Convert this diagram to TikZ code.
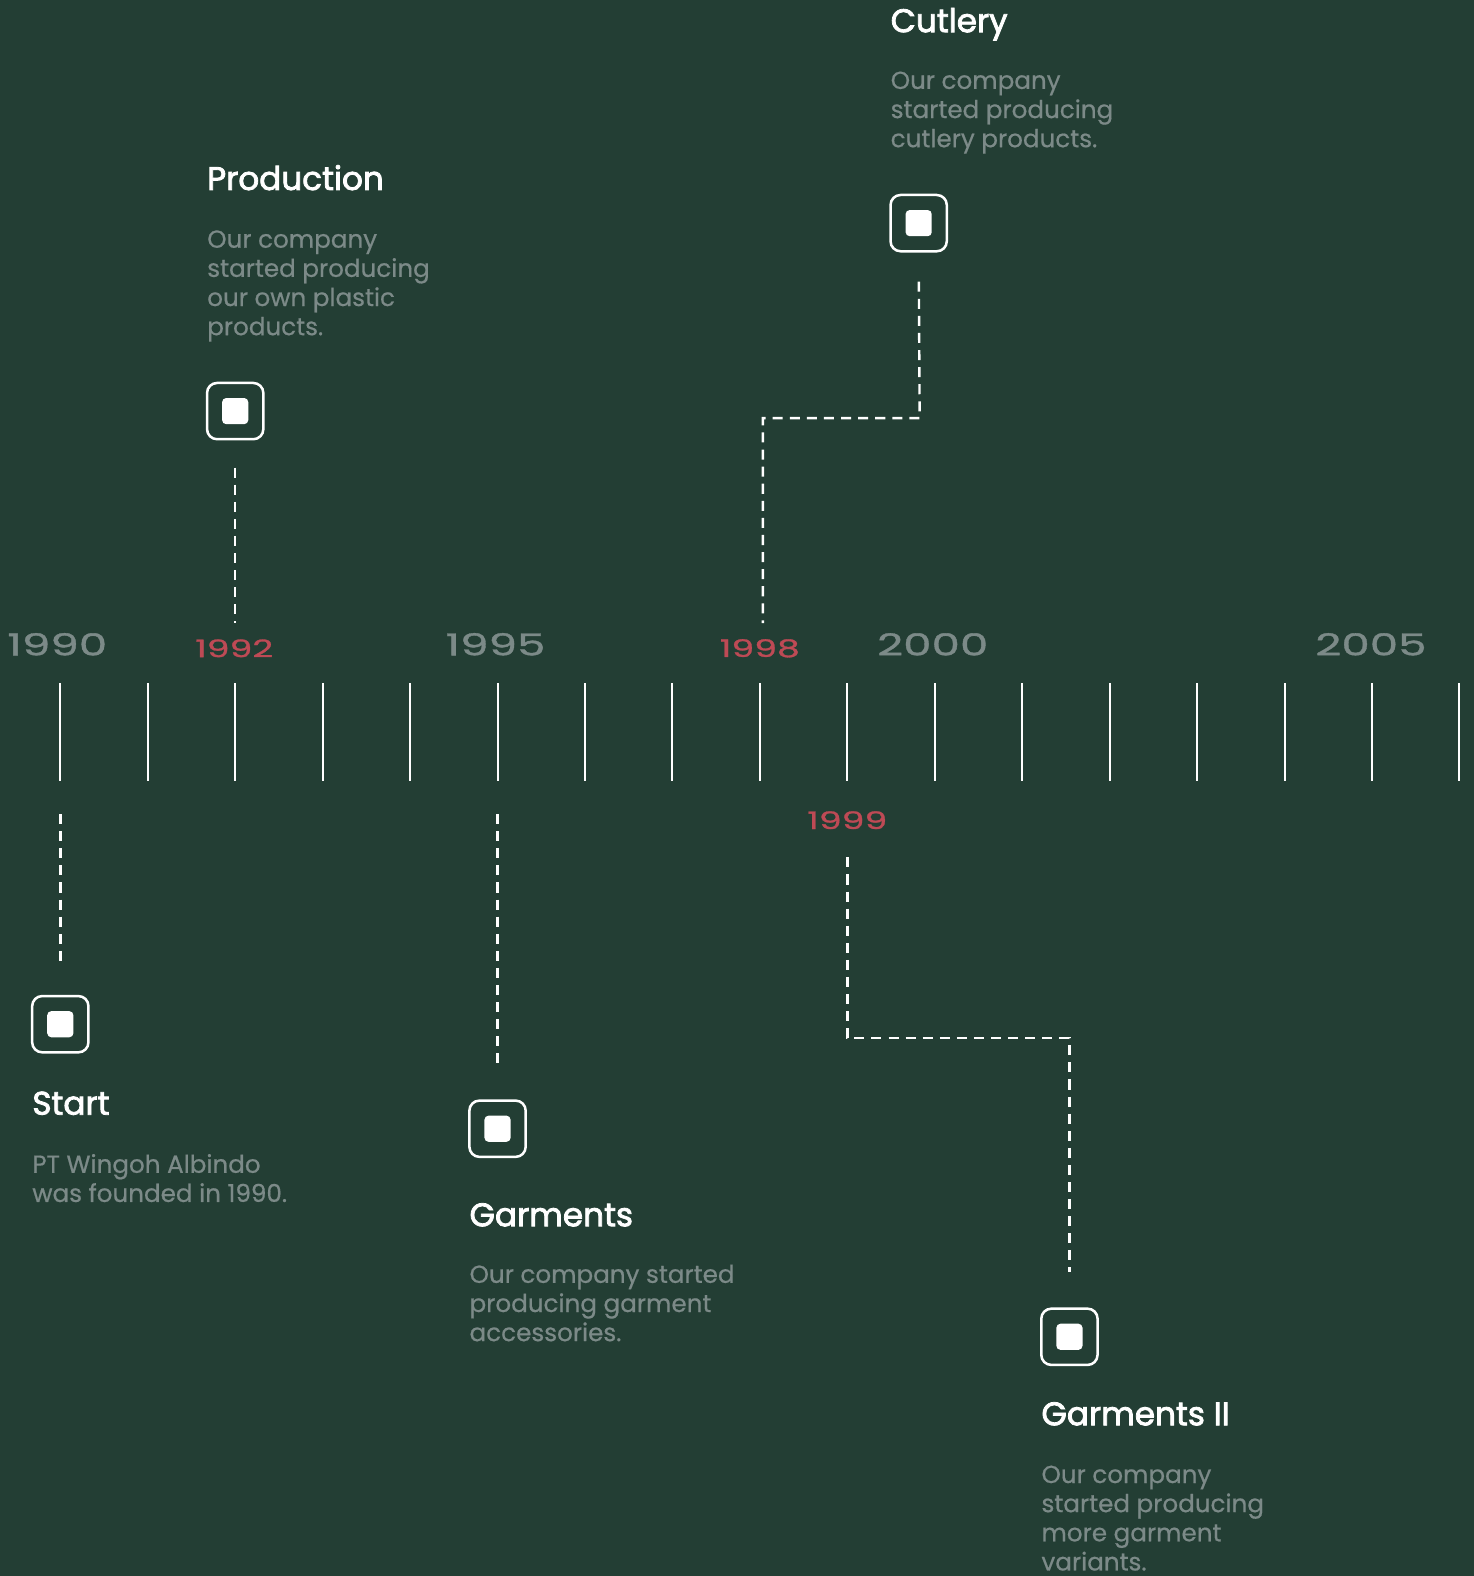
\documentclass[tikz,border=0pt]{standalone}
\usepackage{fontspec}
\setmainfont{Poppins}
\newfontfamily\titlefont[FakeBold=2.4]{Poppins}
\newfontfamily\descfont[FakeBold=0.6]{Poppins}
\newfontfamily\yearfont[FakeStretch=1.5,FakeBold=1.2]{Poppins}
\definecolor{bgcol}{HTML}{233E34}
\definecolor{graytxt}{HTML}{7C8A88}
\definecolor{yearred}{HTML}{BE4A55}
\tikzset{
  title/.style={anchor=base west, inner sep=0pt, text=white, font=\titlefont\fontsize{32.5}{36}\selectfont},
  desc/.style={anchor=north west, inner sep=0pt, align=left, text=graytxt, font=\descfont\fontsize{24.5}{29}\selectfont},
  year/.style={inner sep=0pt, text=graytxt, font=\yearfont\fontsize{30}{30}\selectfont},
  redyear/.style={inner sep=0pt, text=yearred, font=\yearfont\fontsize{24}{24}\selectfont},
  iconbox/.style={draw=white, line width=2.5pt, rounded corners=10pt, minimum size=56pt, inner sep=0pt},
  icondot/.style={fill=white, rounded corners=4pt, minimum size=26pt, inner sep=0pt},
  tick/.style={white, line width=2pt},
  link/.style={white, line width=2.4pt, dash pattern=on 10pt off 7pt}
}
\begin{document}
\begin{tikzpicture}[x=1pt,y=-1pt]
  \fill[bgcol] (0,0) rectangle (1466,1568);
  \useasboundingbox (0,0) rectangle (1466,1568);

  % ruler
  \foreach \i in {0,...,16}
    \draw[tick] (60+87*\i,680) -- ++(0,97);

  % years
  \node[year] (y1990) at (57,641) {1990};
  \node[redyear] (y1992) at (233,645) {1992};
  \node[year] (y1995) at (493,641) {1995};
  \node[redyear] (y1998) at (756,645) {1998};
  \node[year] (y2000) at (928,641) {2000};
  \node[year] (y2005) at (1364,641) {2005};
  \node[redyear] (y1999) at (843,816) {1999};

  % icons
  \node[iconbox] (startbox) at (60,1019) {};
  \node[icondot] (startdot) at (startbox) {};
  \node[iconbox] (prodbox) at (234,409) {};
  \node[icondot] (proddot) at (prodbox) {};
  \node[iconbox] (garmbox) at (495,1123) {};
  \node[icondot] (garmdot) at (garmbox) {};
  \node[iconbox] (cutbox) at (914,222) {};
  \node[icondot] (cutdot) at (cutbox) {};
  \node[iconbox] (garmiibox) at (1064,1330) {};
  \node[icondot] (garmiidot) at (garmiibox) {};

  % texts
  \node[title] (starttitle) at (32,1109) {Start};
  \node[desc] (startdesc) at (32,1148) {PT Wingoh Albindo\\was founded in 1990.};
  \node[title] (prodtitle) at (206,189) {Production};
  \node[desc] (proddesc) at (206,229) {Our company\\started producing\\our own plastic\\products.};
  \node[title] (garmtitle) at (467,1220) {Garments};
  \node[desc] (garmdesc) at (467,1258) {Our company started\\producing garment\\accessories.};
  \node[title] (cuttitle) at (886,32) {Cutlery};
  \node[desc] (cutdesc) at (886,71) {Our company\\started producing\\cutlery products.};
  \node[title] (garmiititle) at (1036,1418) {Garments II};
  \node[desc] (garmiidesc) at (1036,1458) {Our company\\started producing\\more garment\\variants.};

  % connectors
  \coordinate (prodend) at (234,620);
  \coordinate (cutend) at (759,620);
  \coordinate (startend) at (60,810);
  \coordinate (garmend) at (495,810);
  \coordinate (garmiiend) at (843,853);
  \draw[link, shorten <=27pt] (prodbox.south) -- (prodend);
  \draw[link, shorten <=29pt] (cutbox.south) -- (915,416) -- (759,416) -- (cutend);
  \draw[link, shorten >=28pt] (startend) -- (startbox.north);
  \draw[link, shorten >=32pt] (garmend) -- (garmbox.north);
  \draw[link, shorten >=35pt] (garmiiend) -- (843,1033) -- (1064,1033) -- (garmiibox.north);
\end{tikzpicture}
\end{document}
